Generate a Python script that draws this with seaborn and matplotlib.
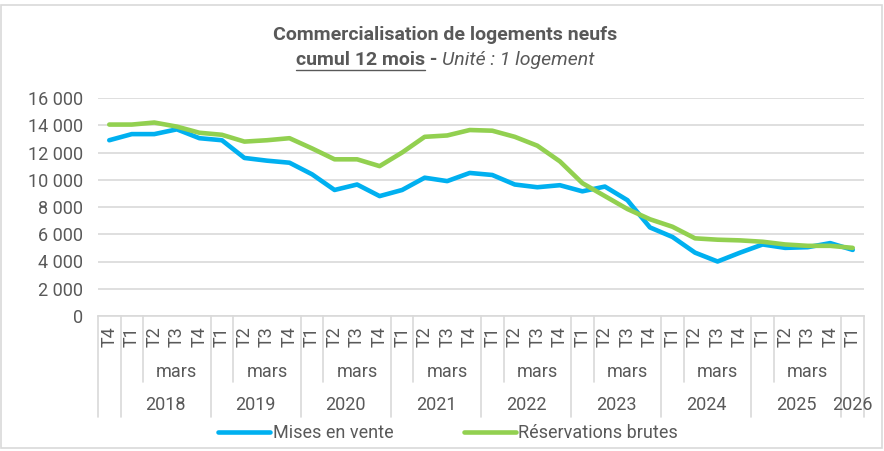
import matplotlib
matplotlib.use("Agg")
import matplotlib.pyplot as plt
import seaborn as sns
import pandas as pd
from matplotlib.transforms import blended_transform_factory
from matplotlib.patches import Rectangle

# ---------------- data ----------------
quarters = ["T4"] + ["T1", "T2", "T3", "T4"] * 8 + ["T1"]
years = ["", "2018", "2019", "2020", "2021", "2022", "2023", "2024", "2025", "2026"]
month_label = "mars"

mises_en_vente = [12900, 13350, 13350, 13700, 13050, 12900, 11600, 11400, 11250, 10400,
                  9250, 9650, 8800, 9250, 10150, 9900, 10500, 10350, 9650, 9450,
                  9600, 9150, 9500, 8500, 6500, 5800, 4650, 4000, 4650, 5250,
                  5000, 5050, 5350, 4850]
reservations_brutes = [14050, 14050, 14200, 13900, 13450, 13300, 12800, 12900, 13050, 12300,
                       11500, 11500, 11000, 12000, 13150, 13250, 13650, 13600, 13150, 12500,
                       11350, 9750, 8800, 7850, 7100, 6550, 5700, 5600, 5550, 5450,
                       5250, 5150, 5150, 5000]
series_names = ["Mises en vente", "Réservations brutes"]
series_colors = ["#00B0F0", "#92D050"]
yticks = [0, 2000, 4000, 6000, 8000, 10000, 12000, 14000, 16000]

title1 = "Commercialisation de logements neufs"
title2_bold = "cumul 12 mois"
title2_sep = " - "
title2_italic = "Unité : 1 logement"

# ---------------- styling ----------------
sns.set_theme(style="white")
plt.rcParams["font.family"] = ["Roboto", "DejaVu Sans"]
TXT = "#595959"
GRID = "#D9D9D9"
FS = 13
TFS = 14

W, H = 884, 451
fig = plt.figure(figsize=(W / 100, H / 100), dpi=100)
left, right, top, bottom = 98, 864, 98, 316
ax = fig.add_axes([left / W, 1 - bottom / H, (right - left) / W, (bottom - top) / H])

n = len(quarters)
df = pd.DataFrame({
    "pos": list(range(n)) * 2,
    "valeur": mises_en_vente + reservations_brutes,
    "série": [series_names[0]] * n + [series_names[1]] * n,
})
sns.lineplot(data=df, x="pos", y="valeur", hue="série", hue_order=series_names,
             palette=series_colors, linewidth=3.3, ax=ax, legend=False,
             solid_capstyle="round", solid_joinstyle="round", zorder=3)

ax.set_xlim(-0.5, n - 0.5)
ax.set_ylim(0, 16000)
ax.set_yticks(yticks)
ax.set_yticklabels([f"{v:,}".replace(",", " ") for v in yticks], color=TXT, fontsize=FS)
ax.tick_params(axis="y", length=0, pad=10.5)
ax.set_xticks([])
ax.set_xlabel("")
ax.set_ylabel("")
ax.grid(axis="y", color=GRID, linewidth=1.2, zorder=0)
for s in ["top", "right", "left"]:
    ax.spines[s].set_visible(False)
ax.spines["bottom"].set_color(GRID)
ax.spines["bottom"].set_linewidth(1.2)

# ---------------- multi-level category axis ----------------
tr = blended_transform_factory(ax.transData, ax.transAxes)
ah = bottom - top
def fy(px):
    return -(px - bottom) / ah

y_q = fy(337)
y_m = fy(372)
y_y = fy(405)
y_mid_end = fy(382)
y_full_end = fy(417)

# groups: a new year starts at each T1
groups = []
start = 0
for i in range(1, n):
    if quarters[i] == "T1":
        groups.append((start, i - 1))
        start = i
groups.append((start, n - 1))

for i, q in enumerate(quarters):
    ax.text(i, y_q, q, transform=tr, rotation=90, ha="center", va="center",
            color=TXT, fontsize=FS)

line_kw = dict(transform=tr, color=GRID, linewidth=1.2, clip_on=False, zorder=1)
boundaries = [-0.5] + [g[1] + 0.5 for g in groups]
for b in boundaries:
    ax.plot([b, b], [0, y_full_end], **line_kw)

for (g0, g1), yr in zip(groups, years):
    ax.text((g0 + g1) / 2, y_y, yr, transform=tr, ha="center", va="center",
            color=TXT, fontsize=FS)
    idx = [k for k in range(g0, g1 + 1) if quarters[k] in ("T2", "T3", "T4")]
    if len(idx) == 3:
        ax.plot([idx[0] - 0.5, idx[0] - 0.5], [0, y_mid_end], **line_kw)
        ax.text((idx[0] + idx[-1]) / 2, y_m, month_label, transform=tr,
                ha="center", va="center", color=TXT, fontsize=FS)

# ---------------- legend ----------------
handles = [plt.Line2D([], [], color=c, linewidth=3.3, solid_capstyle="round")
           for c in series_colors]
leg = fig.legend(handles, series_names, loc="center", ncol=2,
                 bbox_to_anchor=(448 / W, 1 - 433 / H), frameon=False,
                 fontsize=FS, handlelength=2.9, handletextpad=0.12,
                 columnspacing=3.9)
for t in leg.get_texts():
    t.set_color(TXT)

# ---------------- titles ----------------
fig.text(445 / W, 1 - 35 / H, title1, ha="center", va="center", color=TXT,
         fontsize=TFS, fontweight="bold")

y2 = 1 - 60 / H
t_a = fig.text(0, y2, title2_bold, ha="left", va="center", color=TXT,
               fontsize=TFS, fontweight="bold")
t_b = fig.text(0, y2, title2_sep, ha="left", va="center", color=TXT,
               fontsize=TFS, fontweight="bold")
t_c = fig.text(0, y2, title2_italic, ha="left", va="center", color=TXT,
               fontsize=TFS, style="italic")
fig.canvas.draw()
r = fig.canvas.get_renderer()
wa = t_a.get_window_extent(r).width / W
wb = t_b.get_window_extent(r).width / W
wc = t_c.get_window_extent(r).width / W
x0 = 445 / W - (wa + wb + wc) / 2
t_a.set_x(x0)
t_b.set_x(x0 + wa)
t_c.set_x(x0 + wa + wb)
uy = 1 - 70 / H
fig.add_artist(plt.Line2D([x0, x0 + wa], [uy, uy], color=TXT, linewidth=1.0,
                          transform=fig.transFigure))

# chart border
fig.add_artist(Rectangle((1 / W, 3 / H), 881 / W, 443 / H, transform=fig.transFigure,
                         fill=False, edgecolor=GRID, linewidth=1.2))

fig.savefig("out.png", dpi=100)
